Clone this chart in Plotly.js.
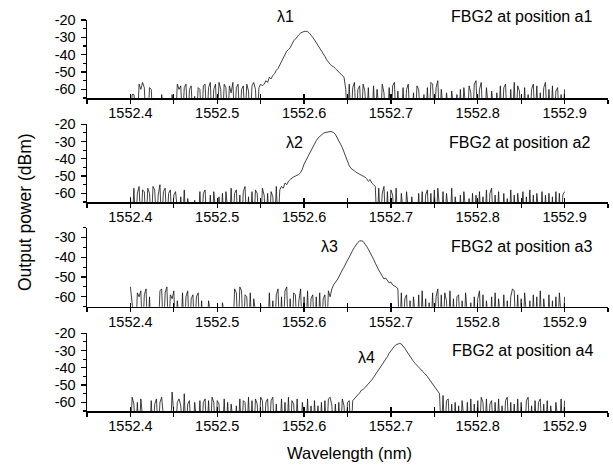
<!DOCTYPE html>
<html>
<head>
<meta charset="utf-8">
<script src="https://cdn.plot.ly/plotly-3.0.1.min.js"></script>
<style>html,body{margin:0;padding:0;background:#fff}#chart{width:613px;height:465px}</style>
</head>
<body>
<div id="chart"></div>
<script>
// Wavelength grid of the spectrum analyser (nm)
const wlStart = 1552.40;
const wlStep = 0.002;

// Output power (dBm); -80 marks samples below the -65 dBm display floor (drawn clipped at the axis)
const powerA1 = [
  -80,-63,-63,-80,-80,-57,-60,-56,-59,-80,
  -80,-59,-60,-80,-80,-80,-80,-80,-63,-80,
  -80,-80,-80,-80,-63,-80,-80,-57,-60,-58,
  -80,-59,-57,-80,-60,-58,-80,-64,-80,-59,
  -60,-80,-58,-57,-80,-59,-56,-80,-60,-57,
  -80,-56,-60,-80,-57,-59,-80,-58,-62,-56,
  -80,-59,-57,-80,-60,-58,-80,-57,-61,-80,
  -58,-56,-60,-80,-59,-57,-58,-57,-55,-56,
  -53,-54,-52,-51,-49,-48,-46,-44,-42,-40,
  -38,-37,-36,-34,-32,-31,-29.5,-28.5,-27.5,-27,
  -26.6,-26.5,-26.7,-27.5,-28.5,-30,-31.5,-33,-35,-36.5,
  -38,-39.5,-41,-43,-44.5,-45.5,-46.5,-47,-48,-49,
  -50,-51,-52,-53,
  -60,-80,-57,-80,-59,-56,-80,-60,-58,-80,
  -57,-61,-80,-59,-80,-80,-58,-80,-60,-80,
  -80,-57,-62,-80,-80,-59,-80,-58,-56,-80,
  -61,-80,-80,-59,-80,-60,-57,-80,-80,-62,
  -80,-58,-60,-80,-80,-63,-80,-59,-80,-56,
  -57,-80,-59,-55,-80,-60,-80,-80,-62,-80,
  -80,-61,-80,-80,-63,-80,-60,-80,-59,-80,
  -80,-58,-62,-80,-57,-55,-80,-60,-56,-80,
  -80,-59,-80,-80,-61,-80,-80,-62,-80,-58,
  -80,-59,-57,-80,-80,-60,-80,-56,-80,-58,
  -61,-80,-80,-59,-80,-63,-80,-60,-57,-80,
  -58,-80,-62,-80,-59,-56,-80,-60,-80,-58,
  -80,-61,-59,-80,-63,-80,-60
];
const powerA2 = [
  -62,-80,-57,-80,-60,-56,-80,-58,-59,-80,
  -57,-60,-80,-56,-58,-80,-61,-55,-80,-59,
  -57,-80,-60,-58,-80,-61,-59,-80,-80,-62,
  -80,-58,-80,-63,-80,-80,-80,-64,-80,-80,
  -59,-80,-60,-58,-80,-80,-61,-80,-59,-80,
  -80,-62,-80,-60,-80,-59,-80,-80,-57,-80,
  -60,-58,-80,-61,-80,-59,-56,-80,-62,-80,
  -59,-80,-58,-60,-80,-80,-57,-61,-80,-60,
  -80,-59,-62,-80,-56,-80,-58,-56,-57,-54,
  -55,-53,-52,-51,-50.5,-50,-49.5,-49,-48,-46,
  -43,-41,-39,-37,-35,-33,-31,-29.5,-28,-27,
  -26,-25.3,-24.8,-24.5,-24.3,-24.2,-24.3,-24.8,-25.8,-27.5,
  -29.5,-31.5,-33.5,-36,-39,-42,-44,-45.5,-46.5,-47,
  -47.8,-48.5,-49,-49.5,-50,-50.5,-51.5,-53,-52,-54,
  -55,-56,
  -80,-57,-80,-60,-56,-80,-59,-80,-58,-61,
  -80,-57,-80,-80,-60,-80,-80,-59,-80,-80,
  -62,-80,-80,-80,-60,-80,-59,-80,-61,-58,
  -80,-60,-80,-58,-80,-57,-80,-80,-59,-80,
  -60,-80,-80,-57,-80,-62,-80,-80,-61,-80,
  -59,-80,-80,-63,-80,-60,-80,-61,-80,-59,
  -80,-62,-80,-58,-80,-60,-57,-80,-61,-80,
  -59,-80,-80,-60,-80,-63,-80,-58,-80,-61,
  -80,-60,-80,-80,-59,-80,-62,-80,-58,-80,
  -61,-80,-60,-80,-80,-59,-80,-61,-80,-60,
  -80,-62,-80,-59,-80,-60,-80,-61,-59
];
const powerA3 = [
  -55,-80,-80,-80,-58,-60,-57,-80,-59,-56,
  -80,-60,-80,-80,-80,-80,-80,-57,-56,-80,
  -58,-55,-80,-59,-61,-57,-80,-62,-80,-80,
  -58,-80,-60,-57,-80,-61,-59,-80,-60,-58,
  -80,-62,-80,-80,-80,-62,-80,-80,-80,-80,
  -80,-80,-80,-63,-80,-80,-80,-80,-80,-80,
  -56,-58,-80,-55,-57,-80,-59,-60,-80,-58,
  -80,-61,-80,-80,-80,-64,-80,-80,-80,-80,
  -58,-80,-62,-80,-59,-56,-80,-60,-80,-57,
  -55,-80,-61,-80,-58,-59,-80,-62,-56,-80,
  -60,-80,-57,-80,-61,-59,-80,-60,-80,-58,
  -80,-61,-59,-80,-57,-60,-56,-54,-53,-51.5,
  -50,-48,-46.5,-45,-43,-41.5,-40,-38,-36.5,-35,
  -33.5,-32.5,-31.8,-31.7,-32,-33,-34.5,-36,-37.5,-39,
  -41,-43,-45,-46.5,-48,-49.5,-51,-50.5,-52,-53,
  -52.5,-54,-54.5,-55,-56,
  -80,-58,-80,-61,-59,-80,-62,-80,-60,-80,
  -80,-59,-80,-57,-80,-61,-80,-63,-80,-58,
  -80,-60,-56,-80,-59,-80,-58,-62,-80,-57,
  -80,-61,-80,-60,-59,-80,-62,-80,-58,-80,
  -80,-63,-80,-60,-80,-61,-57,-80,-59,-80,
  -62,-80,-80,-60,-80,-58,-80,-61,-80,-80,
  -59,-80,-62,-80,-60,-56,-57,-80,-59,-80,
  -61,-80,-58,-80,-80,-62,-80,-59,-80,-60,
  -80,-57,-80,-61,-80,-80,-59,-80,-62,-80,
  -60,-80,-58,-80,-80,-60
];
const powerA4 = [
  -80,-57,-61,-80,-60,-80,-58,-80,-80,-80,
  -80,-80,-59,-80,-61,-58,-80,-60,-57,-80,
  -80,-80,-80,-80,-54,-80,-80,-60,-58,-62,
  -80,-55,-80,-61,-59,-80,-80,-60,-80,-80,
  -59,-80,-60,-58,-80,-59,-80,-57,-60,-80,
  -59,-61,-80,-80,-58,-80,-60,-80,-61,-80,
  -80,-62,-80,-58,-80,-59,-60,-80,-57,-80,
  -59,-80,-58,-61,-80,-57,-59,-80,-60,-58,
  -80,-59,-57,-80,-61,-80,-80,-58,-80,-60,
  -80,-57,-80,-59,-61,-80,-58,-80,-80,-60,
  -80,-80,-58,-80,-62,-80,-59,-80,-62,-80,
  -60,-80,-59,-80,-58,-57,-62,-80,-61,-80,
  -60,-80,-58,-62,-80,-60,-59,-80,-59,-58,
  -57,-55.5,-54.5,-53,-52.5,-51.5,-50.5,-49.5,-48,-47,
  -45.5,-44,-42.5,-41,-39.5,-38,-37,-35.5,-33.5,-31.5,
  -30,-28.7,-27.5,-26.7,-26,-25.8,-26.2,-27.3,-28.7,-30.3,
  -32,-33.5,-35,-36.3,-37.5,-38.7,-39.8,-40.8,-41.8,-42.8,
  -43.8,-45,-46.5,-48,-49.5,-51,-52,-53.5,-55,
  -80,-56,-80,-59,-58,-80,-61,-80,-60,-80,
  -62,-80,-59,-80,-80,-60,-80,-58,-80,-61,
  -80,-59,-80,-57,-60,-80,-58,-80,-61,-59,
  -80,-60,-80,-58,-80,-62,-80,-59,-57,-80,
  -60,-80,-61,-80,-58,-80,-60,-80,-80,-59,
  -57,-80,-62,-80,-59,-80,-60,-58,-80,-61,
  -80,-59,-80,-62,-80,-80,-60,-80,-80,-58,
  -80,-59
];

const series = [powerA1, powerA2, powerA3, powerA4];
const peakLabels = ['λ1', 'λ2', 'λ3', 'λ4'];
const panelLabels = ['FBG2 at position a1', 'FBG2 at position a2', 'FBG2 at position a3', 'FBG2 at position a4'];
const yRanges = [[-65, -20], [-65, -20], [-65, -25], [-65, -20]];
const yTickVals = [[-20, -30, -40, -50, -60], [-20, -30, -40, -50, -60], [-30, -40, -50, -60], [-20, -30, -40, -50, -60]];
const xTitle = 'Wavelength (nm)';
const yTitle = 'Output power (dBm)';

// layout geometry (paper fractions)
const W = 613, H = 465;
const xDom = [87 / W, 608 / W];
const yDoms = [[367 / H, 445 / H], [263 / H, 340.7 / H], [158.3 / H, 237.5 / H], [54 / H, 131.7 / H]];
const peakPos = [[285, 16], [294, 142], [329, 247], [366, 357]];
const labelPos = [[522, 16], [520, 142], [522, 247], [523, 350]];

const FONT = 'Liberation Sans, Arial, sans-serif';
const traces = [];
const layout = {
  width: W, height: H,
  margin: {l: 0, r: 0, t: 0, b: 0},
  paper_bgcolor: '#fff', plot_bgcolor: '#fff',
  showlegend: false,
  font: {family: FONT, size: 14, color: '#000'},
  annotations: []
};

series.forEach((vals, k) => {
  const n = k + 1;
  const sx = n === 1 ? '' : String(n);
  const xs = vals.map((_, i) => wlStart + i * wlStep);
  traces.push({
    x: xs, y: vals, type: 'scatter', mode: 'lines',
    xaxis: 'x' + sx, yaxis: 'y' + sx,
    line: {color: '#111', width: 0.8}, hoverinfo: 'skip'
  });
  // empty trace for the overlay axis carrying the inward half of the crossing ticks
  traces.push({
    x: [], y: [], type: 'scatter', mode: 'lines',
    xaxis: 'x' + (n + 4), yaxis: 'y' + sx, hoverinfo: 'skip'
  });
  layout['xaxis' + sx] = {
    domain: xDom, anchor: 'y' + sx,
    range: [1552.35, 1552.95], tick0: 1552.4, dtick: 0.1, tickformat: '.1f',
    ticks: 'outside', ticklen: 4, tickwidth: 1.3, tickcolor: '#000',
    minor: {dtick: 0.05, tick0: 1552.4, ticks: 'outside', ticklen: 4, tickwidth: 1.1, tickcolor: '#000'},
    showline: true, linecolor: '#000', linewidth: 1.5,
    showgrid: false, zeroline: false, ticklabelstandoff: -3,
    tickfont: {family: FONT, size: 14.5, color: '#000'}
  };
  layout['xaxis' + (n + 4)] = {
    overlaying: 'x' + sx, anchor: 'y' + sx,
    domain: xDom, range: [1552.35, 1552.95], tick0: 1552.4, dtick: 0.1,
    ticks: 'inside', ticklen: 4, tickwidth: 1.3, tickcolor: '#000',
    minor: {dtick: 0.05, tick0: 1552.4, ticks: 'inside', ticklen: 4, tickwidth: 1.1, tickcolor: '#000'},
    showticklabels: false, showline: false, showgrid: false, zeroline: false, side: 'bottom'
  };
  layout['yaxis' + sx] = {
    domain: yDoms[k], anchor: 'x' + sx,
    range: yRanges[k], tickmode: 'array',
    tickvals: yTickVals[k], ticktext: yTickVals[k].map(v => String(v)),
    ticks: 'outside', ticklen: 5, tickwidth: 1.3, tickcolor: '#000',
    minor: {dtick: 5, tick0: -60, ticks: 'outside', ticklen: 3, tickwidth: 1.1, tickcolor: '#000'},
    showline: true, linecolor: '#000', linewidth: 1.5,
    showgrid: false, zeroline: false, ticklabelstandoff: 2,
    tickfont: {family: FONT, size: 14.5, color: '#000'}
  };

  layout.annotations.push({
    text: peakLabels[k], xref: 'paper', yref: 'paper',
    x: peakPos[k][0] / W, y: 1 - peakPos[k][1] / H,
    xanchor: 'center', yanchor: 'middle', showarrow: false,
    font: {family: FONT, size: 16, color: '#000'}
  });
  layout.annotations.push({
    text: panelLabels[k], xref: 'paper', yref: 'paper',
    x: labelPos[k][0] / W, y: 1 - labelPos[k][1] / H,
    xanchor: 'center', yanchor: 'middle', showarrow: false,
    font: {family: FONT, size: 16, color: '#000'}
  });
});

layout.annotations.push({
  text: xTitle, xref: 'paper', yref: 'paper', x: 349 / W, y: 1 - 453 / H,
  xanchor: 'center', yanchor: 'middle', showarrow: false,
  font: {family: FONT, size: 16.5, color: '#000'}
});
layout.annotations.push({
  text: yTitle, xref: 'paper', yref: 'paper', x: 25 / W, y: 1 - 212 / H,
  xanchor: 'center', yanchor: 'middle', showarrow: false, textangle: -90,
  font: {family: FONT, size: 17.5, color: '#000'}
});

Plotly.newPlot('chart', traces, layout, {staticPlot: true, displayModeBar: false});
</script>
</body>
</html>
